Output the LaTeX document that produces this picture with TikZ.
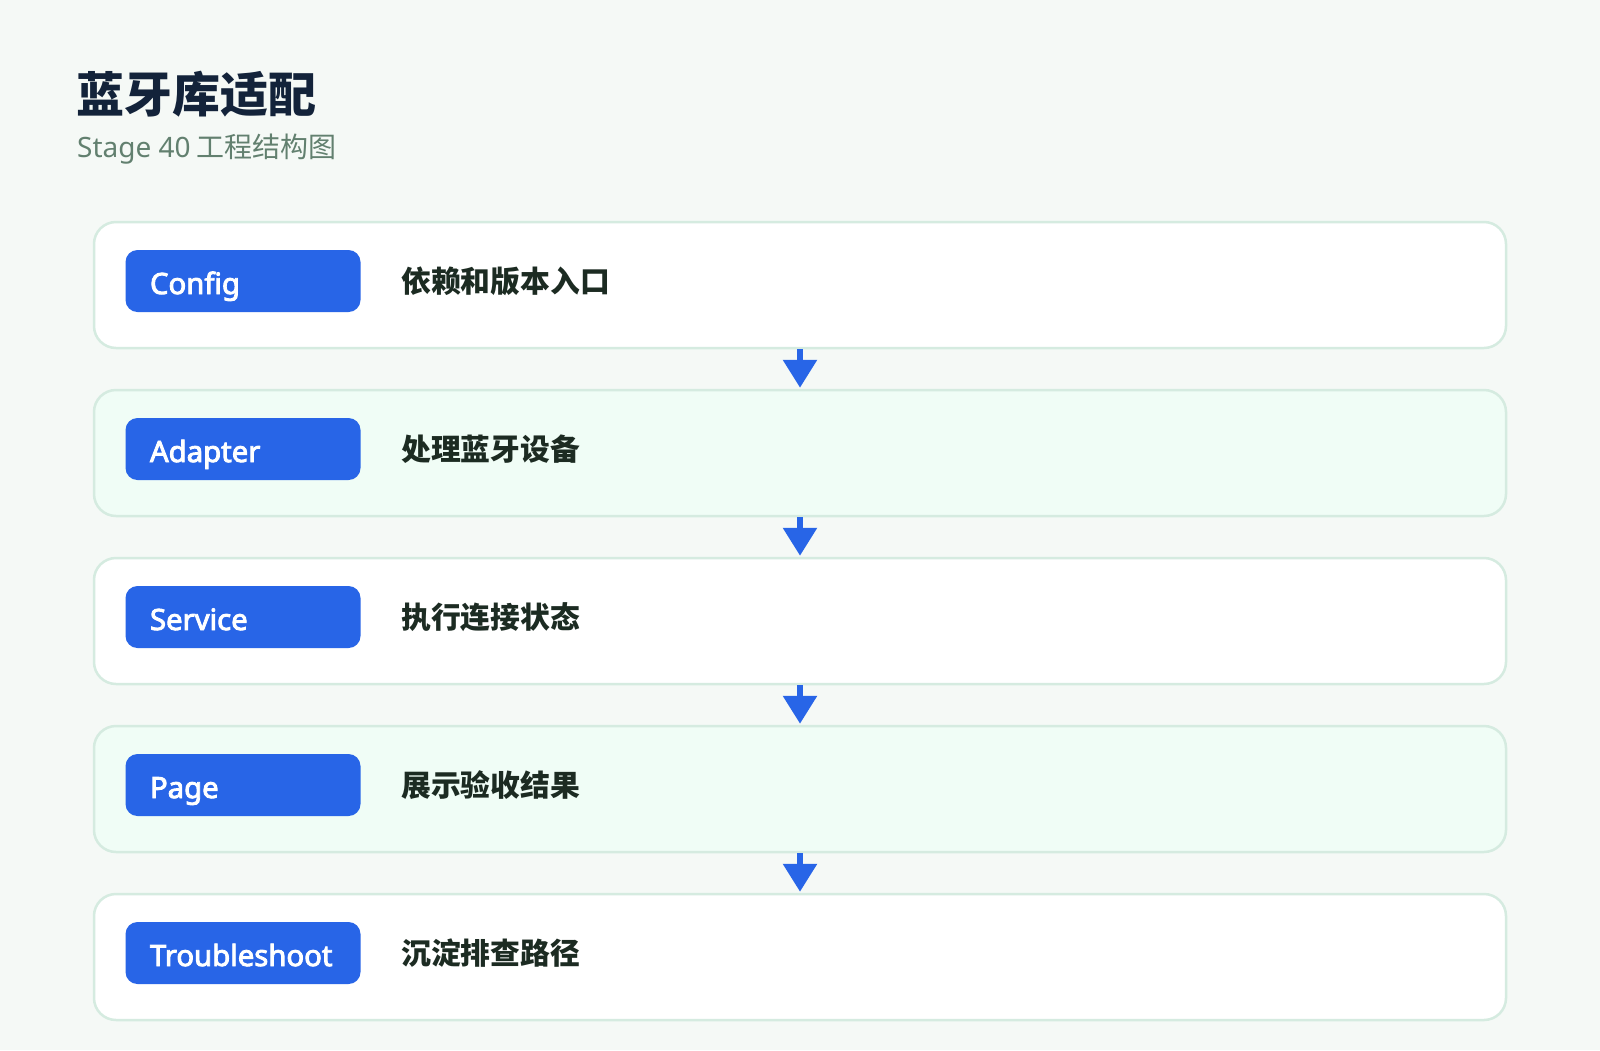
\documentclass[tikz,border=0pt]{standalone}
\usepackage{fontspec}
\setmainfont{Noto Sans CJK SC}
\newfontfamily\latinfont{Noto Sans}
\newfontfamily\tagfont{Noto Sans}[FakeBold=3]
\usetikzlibrary{arrows.meta}

\definecolor{pagebg}{HTML}{F5F9F6}
\definecolor{mintfill}{HTML}{F0FDF6}
\definecolor{rowline}{HTML}{D5EBE0}
\definecolor{tagblue}{HTML}{2865E7}
\definecolor{titletext}{HTML}{13233A}
\definecolor{subtext}{HTML}{62806F}
\definecolor{desctext}{HTML}{1C2B22}

\begin{document}
\begin{tikzpicture} [x=1pt, y=-1pt,
    rowbox/.style={draw=rowline, line width=2.5pt, rounded corners=22pt,
        minimum width=1412pt, minimum height=126pt, inner sep=0pt},
    tag/.style={fill=tagblue, rounded corners=12pt, minimum width=235pt,
        minimum height=62pt, inner xsep=24.5pt, inner ysep=0pt,
        text width=186pt, align=left, text height=26pt, text depth=0pt,
        text=white, font=\tagfont\fontsize{29.3}{35}\selectfont},
    desc/.style={anchor=base west, inner sep=0pt, text=desctext,
        font=\bfseries\fontsize{29.8}{36}\selectfont},
    flow/.style={-{Triangle[width=33pt,length=28pt]}, line width=6pt,
        draw=tagblue, shorten >=1pt}]
    \fill[pagebg] (0,0) rectangle (1600,1050);
    \useasboundingbox (0,0) rectangle (1600,1050);

    %% heading
    \node[anchor=base west, inner sep=0pt, text=titletext,
        font=\bfseries\fontsize{48}{56}\selectfont] (title) at (76,112) {蓝牙库适配};
    \node[anchor=base west, inner sep=0pt, text=subtext,
        font=\fontsize{28}{34}\selectfont] (subtitle) at (77,157) {{\latinfont Stage 40} 工程结构图};

    %% one
    \node[rowbox, fill=white] (row1) at (800,285) {};
    \node[tag] (tag1) at (243,281) {Config};
    \node[desc] (desc1) at (401,292) {依赖和版本入口};

    %% two
    \node[rowbox, fill=mintfill] (row2) at (800,453) {};
    \node[tag] (tag2) at (243,449) {Adapter};
    \node[desc] (desc2) at (401,460) {处理蓝牙设备};

    %% three
    \node[rowbox, fill=white] (row3) at (800,621) {};
    \node[tag] (tag3) at (243,617) {Service};
    \node[desc] (desc3) at (401,628) {执行连接状态};

    %% four
    \node[rowbox, fill=mintfill] (row4) at (800,789) {};
    \node[tag] (tag4) at (243,785) {Page};
    \node[desc] (desc4) at (401,796) {展示验收结果};

    %% five
    \node[rowbox, fill=white] (row5) at (800,957) {};
    \node[tag] (tag5) at (243,953) {Troubleshoot};
    \node[desc] (desc5) at (401,964) {沉淀排查路径};

    \draw[flow] (row1.south) -- (row2.north);
    \draw[flow] (row2.south) -- (row3.north);
    \draw[flow] (row3.south) -- (row4.north);
    \draw[flow] (row4.south) -- (row5.north);
\end{tikzpicture}
\end{document}
